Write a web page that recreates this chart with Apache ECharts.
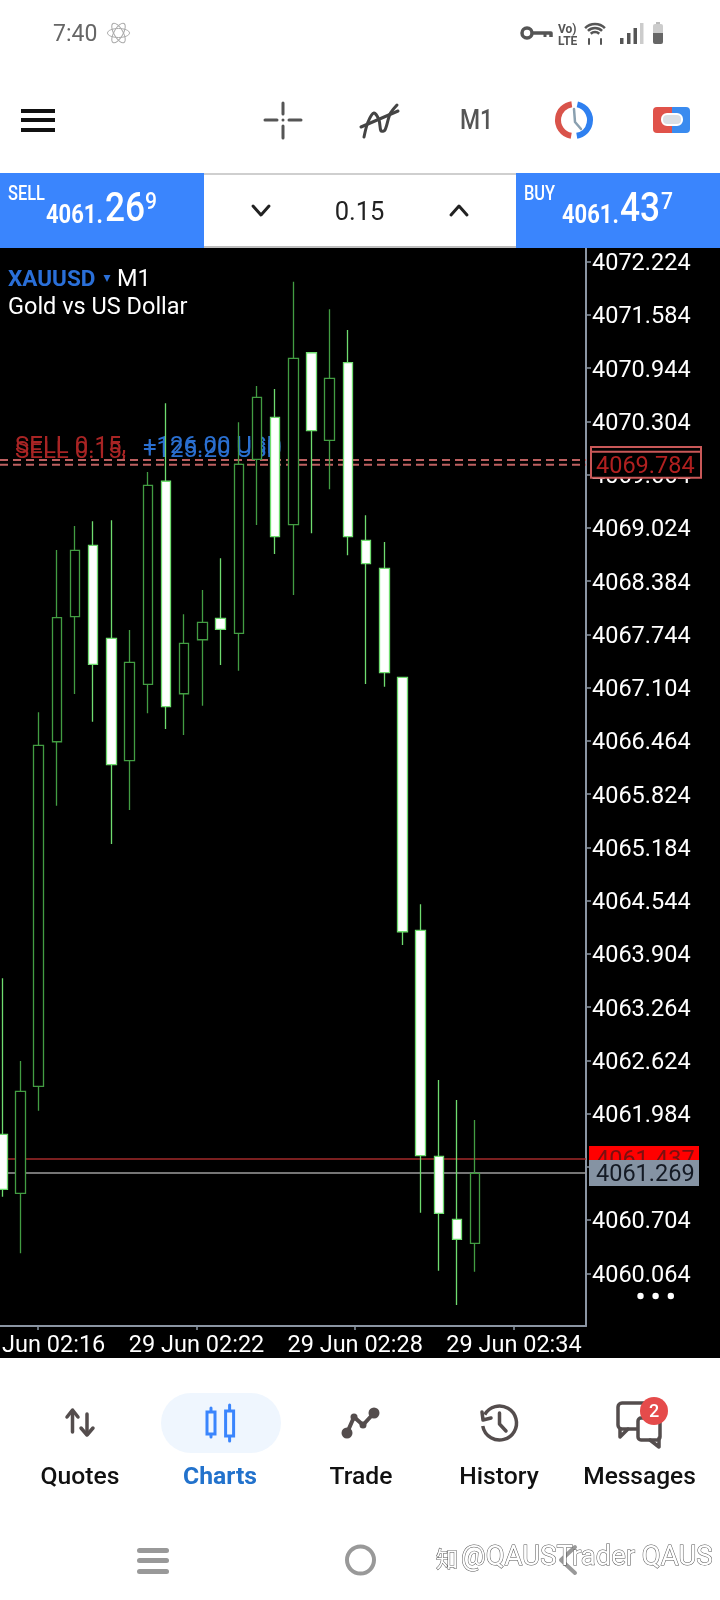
<!DOCTYPE html>
<html><head><meta charset="utf-8">
<style>html,body{margin:0;padding:0;background:#fff}#c{width:720px;height:1600px}</style>
<script src="https://cdn.jsdelivr.net/npm/echarts@6/dist/echarts.min.js"></script>
</head><body><div id="c"></div>
<script>
// Candle data: slot index on the chart, then open / close / low / high
const slots  = [0,1,2,3,4,5,6,7,8,9,10,11,12,13,14,15,16,17,18,19,20,21,22,23,24,25,26];
const opens  = [4061.735,4061.026,4062.312,4066.454,4067.957,4068.815,4067.697,4066.226,4067.144,4069.585,4067.031,4067.680,4067.938,4067.757,4069.849,4070.354,4069.063,4071.130,4070.077,4071.010,4068.875,4068.539,4067.228,4064.187,4061.470,4060.713,4060.425];
const closes = [4061.074,4062.252,4066.411,4067.945,4068.755,4067.385,4066.178,4067.409,4069.536,4066.875,4067.637,4067.890,4067.805,4069.789,4070.594,4068.919,4071.063,4070.193,4070.823,4068.919,4068.594,4067.284,4064.170,4061.478,4060.785,4060.473,4061.266];
const lows   = [4060.985,4060.305,4062.019,4065.685,4067.028,4066.695,4065.225,4065.633,4066.796,4066.607,4066.535,4066.887,4067.376,4067.308,4069.059,4068.711,4068.218,4068.959,4069.488,4068.695,4067.148,4067.115,4064.010,4060.792,4060.095,4059.683,4060.083];
const highs  = [4063.610,4062.616,4066.808,4068.759,4069.047,4069.104,4069.116,4067.797,4069.696,4070.522,4067.986,4068.278,4068.659,4070.294,4070.730,4070.694,4071.984,4071.130,4071.652,4071.403,4069.176,4068.855,4067.228,4064.500,4062.388,4062.147,4061.907];
const yTickValues = [4072.224,4071.584,4070.944,4070.304,4069.664,4069.024,4068.384,4067.744,4067.104,4066.464,4065.824,4065.184,4064.544,4063.904,4063.264,4062.624,4061.984,4061.344,4060.704,4060.064];
const xTickSlots = [1.94,10.68,19.4,28.13];
const xTickLabels = ['29 Jun 02:16','29 Jun 02:22','29 Jun 02:28','29 Jun 02:34'];
const sellOrderPrices = [4069.84,4069.784];
const askPrice = 4061.437;
const bidPrice = 4061.269;
const yMin = 4059.431, yMax = 4072.389, xMin = -0.126, xMax = 32.09;

const F = 'Roboto, sans-serif';
const GRID = {l:0,t:248,w:586,h:1078};
const chart = echarts.init(document.getElementById('c'), null, {renderer:'canvas', width:720, height:1600});
const priceLine = (price,color,type,width) => ({
  type:'line', data:[[xMin,price],[xMax,price]], symbol:'none', silent:true, z:2, animation:false,
  lineStyle:{color, type, width}
});
chart.setOption({
  animation:false, backgroundColor:'#fff',
  grid:{left:GRID.l,top:GRID.t,width:GRID.w,height:GRID.h,containLabel:false,outerBoundsMode:'none',show:false},
  xAxis:{type:'value',min:xMin,max:xMax,splitLine:{show:false},
    axisLine:{show:true,onZero:false,lineStyle:{color:'#8b95a3',width:2}},
    axisTick:{show:true,length:4,lineStyle:{color:'#8b95a3',width:1.5},customValues:xTickSlots},
    axisLabel:{color:'#fff',fontFamily:F,fontSize:23.5,margin:8,hideOverlap:false,showMinLabel:true,showMaxLabel:true,customValues:xTickSlots,
      formatter:v=>xTickLabels[xTickSlots.indexOf(v)]}},
  yAxis:{type:'value',position:'right',min:yMin,max:yMax,scale:true,splitLine:{show:false},
    axisLine:{show:true,onZero:false,lineStyle:{color:'#8b95a3',width:2}},
    axisTick:{show:true,length:5,lineStyle:{color:'#8b95a3',width:1.5},customValues:yTickValues},
    axisLabel:{color:'#fff',fontFamily:F,fontSize:23.5,margin:6,verticalAlign:'top',lineHeight:5,hideOverlap:false,customValues:yTickValues,
      formatter:v=>v.toFixed(3)}},
  series:[
    priceLine(sellOrderPrices[0],'#bd6060',[8,5],2),
    priceLine(sellOrderPrices[1],'#bd6060',[8,5],2),
    priceLine(askPrice,'#a32a2a','solid',1.5),
    priceLine(bidPrice,'#9c9c9c','solid',1.5),
    {type:'candlestick',z:3,barWidth:10,animation:false,silent:true,
     data:slots.map((s,i)=>[s,opens[i],closes[i],lows[i],highs[i]]),
     itemStyle:{color:'#000',color0:'#fff',borderColor:'#429c42',borderColor0:'#6fdc6f',borderWidth:1.3}}
  ]
});

// ---- page furniture ----
const R=(x,y,w,h,fill,o={})=>({type:'rect',silent:true,z:o.z??5,shape:{x,y,width:w,height:h,r:o.r||0},style:{fill,stroke:o.stroke,lineWidth:o.lw}});
const T=(text,x,y,size,fill,o={})=>({type:'text',silent:true,z:o.z??6,x,y:y+2.5,scaleX:o.sx||1,style:{text,fill,font:(o.w||'400')+' '+size+'px '+(o.f||F),
  align:o.a||'left',verticalAlign:'middle',textAlign:o.a||'left',textVerticalAlign:'middle',stroke:o.stroke,lineWidth:o.lw,opacity:o.op}});
const L=(pts,stroke,lw,o={})=>({type:'polyline',silent:true,z:o.z??5,shape:{points:pts,smooth:o.smooth||0},style:{fill:'none',stroke,lineWidth:lw,lineCap:o.cap||'round',lineJoin:'round'}});
const C=(cx,cy,r,fill,o={})=>({type:'circle',silent:true,z:o.z??5,shape:{cx,cy,r},style:{fill,stroke:o.stroke,lineWidth:o.lw}});
const A=(cx,cy,r,s,e,stroke,lw,o={})=>({type:'arc',silent:true,z:o.z??5,shape:{cx,cy,r,startAngle:s,endAngle:e,clockwise:true},style:{fill:'none',stroke,lineWidth:lw,lineCap:o.cap||'butt'}});
const E=(cx,cy,rx,ry,rot,stroke)=>({type:'ellipse',silent:true,z:5,x:cx,y:cy,rotation:rot,shape:{cx:0,cy:0,rx,ry},style:{fill:'none',stroke,lineWidth:1}});
const deg=d=>d*Math.PI/180;
const BLUE='#3a85fd', ICON='#544d4d';

const y=p=>chart.convertToPixel({yAxisIndex:0},p);
const els=[
  R(0,248,720,1110,'#000',{z:-10}),
  // status bar
  T('7:40',53,33,23,'#666'),
  E(118.5,33,11,4.5,deg(60),'#aaa'),E(118.5,33,11,4.5,deg(-60),'#aaa'),E(118.5,33,11,4.5,0,'#aaa'),
  C(527,33,5,'none',{stroke:'#555',lw:3.5}),L([[532,33],[551,33],[551,37]],'#555',3.5,{cap:'butt'}),L([[545,33],[545,37]],'#555',3,{cap:'butt'}),
  T('Vo)',558,27,12,'#555',{w:'700'}),T('LTE',558,39,12,'#555',{w:'700'}),
  A(595,38,6,deg(225),deg(315),'#555',2.5),A(595,38,10,deg(225),deg(315),'#555',2.5),A(595,38,14,deg(225),deg(315),'#555',2.5),
  L([[589,39],[589,44]],'#555',2),L([[601,39],[601,44]],'#555',2),
  R(620,38,3.5,6,'#555'),R(627,33,3.5,11,'#555'),R(633.5,28,3.5,16,'#555'),R(640,23,3.5,21,'#ccc'),
  R(656,22,4,3,'#bbb'),R(653,24,10,10,'#ccc',{r:[2,2,0,0]}),R(653,33,10,11,'#666',{r:[0,0,2,2]}),
  // toolbar
  R(21,109,34,4,'#111'),R(21,118,34,4,'#111'),R(21,128,34,4,'#111'),
  L([[265,120],[277,120]],'#555',3),L([[289,120],[301,120]],'#555',3),L([[283,103],[283,114]],'#555',3),L([[283,126],[283,138]],'#555',3),C(283,120,1.5,'#555'),
  L([[364,137],[368,122],[374,113],[379,120],[381,131],[385,130],[390,114],[397,105]],'#444',3,{smooth:0.3}),L([[361,127],[398,111]],'#444',3),
  T('M1',476.5,120,27,'#555',{a:'center',w:'500',sx:0.85}),
  A(574,120,16,deg(100),deg(262),'#d9534a',6),A(574,120,16,deg(-78),deg(80),'#2f80f0',6),
  L([[574,109],[575,122],[581,129]],'#8aa0b0',2.5),
  R(653,107,19,26,'#e0524a',{r:[4,0,0,4]}),R(672,107,18,26,'#3a8bef',{r:[0,4,4,0]}),R(662,114,20,11,'#dbdfe4',{r:5,stroke:'#fff',lw:2}),
  // quote bar
  R(0,173,204,75,BLUE),R(516,173,204,75,BLUE),R(204,173,312,2,'#cfcfcf'),R(204,246,312,2,'#bdbdbd'),
  T('SELL',8,192,20,'#fff',{w:'500',sx:0.82}),T('4061.',46,214,25,'#fff',{w:'700',sx:0.88}),T('26',105,208,41,'#fff',{w:'500',sx:0.86}),T('9',145,200,24,'#fff',{w:'500',sx:0.88}),
  T('BUY',524,192,20,'#fff',{w:'500',sx:0.82}),T('4061.',562,214,25,'#fff',{w:'700',sx:0.88}),T('43',620,208,41,'#fff',{w:'500',sx:0.86}),T('7',661,200,24,'#fff',{w:'500',sx:0.88}),
  L([[253,206],[261,215],[269,206]],'#222',3),L([[451,215],[459,206],[467,215]],'#222',3),
  T('0.15',359.5,211,25.5,'#222',{a:'center'}),
  // chart header
  T('XAUUSD',8,278,22.5,'#2a6fd8',{w:'700',z:1}),
  {type:'polygon',silent:true,z:1,shape:{points:[[103.5,275],[110.5,275],[107,282]]},style:{fill:'#2a6fd8'}},
  T('M1',117,278,23.5,'#fff',{z:1}),
  T('Gold vs US Dollar',8,306,23.5,'#fff',{z:1}),
  // trade order text, under the candles
  T('SELL 0.15,',15,444.5,24,'#a82424',{z:1}),T('SELL 0.15,',15,449,24,'#a82424',{z:1}),
  T('+126.00 USD',143,444.5,24,'#2a6fd0',{z:1}),T('+125.20 USD',143,448.5,24,'#2a6fd0',{z:1}),
  // three dots
  C(640.5,1296,3.2,'#fff'),C(655.6,1296,3.2,'#fff'),C(670.8,1296,3.2,'#fff'),
  // price tags
  ...sellOrderPrices.map(p=>R(591,y(p)-13,110,26,'#000',{z:10,stroke:'#c95858',lw:2})),
  ...sellOrderPrices.slice(1).map(p=>T(p.toFixed(3),596,y(p),23.5,'#b02020',{z:11})),
  R(589,y(askPrice)-13,110,26,'#ff0000',{z:10}),T(askPrice.toFixed(3),596,y(askPrice),23.5,'#7a1010',{z:11}),
  R(589,y(bidPrice)-13,110,26,'#8593a3',{z:12}),T(bidPrice.toFixed(3),596,y(bidPrice),23.5,'#141a24',{z:13}),
  // bottom nav
  R(161,1393,120,60,'#eff6fe',{r:30}),
  L([[72.5,1432],[72.5,1411]],ICON,3.5),L([[67,1417],[72.5,1410],[78,1417]],ICON,3.5),
  L([[87,1414],[87,1434]],ICON,3.5),L([[81,1428],[87,1435],[93,1428]],ICON,3.5),
  L([[211,1408],[211,1437]],BLUE,3),R(207,1412,8,22,'#eff6fe',{stroke:BLUE,lw:3}),
  L([[229.6,1405],[229.6,1441]],BLUE,3),R(225.6,1411,8,25,'#eff6fe',{stroke:BLUE,lw:3}),
  L([[347,1433],[354,1417],[363,1425],[374,1413]],ICON,4),C(347,1433,5.5,ICON),C(354,1417,3.5,ICON),C(363,1425,3.5,ICON),C(374,1413,5.5,ICON),
  A(499.5,1423,17,deg(-150),deg(170),ICON,3.5),L([[482,1412],[483,1420],[491,1418]],ICON,3.5),L([[499.5,1413],[499.5,1424],[506,1431]],ICON,3.5),
  R(618,1403,30,26,'#fff',{r:4,stroke:ICON,lw:3.5}),L([[620,1429],[620,1437],[628,1429]],ICON,3.5),
  R(638,1418,22,22,'#fff',{r:3,stroke:ICON,lw:3.5}),L([[650,1440],[659,1447],[659,1438]],ICON,3.5),
  C(654,1411,14,'#e54b4b'),T('2',654,1410,18,'#fff',{a:'center',w:'500'}),
  T('Quotes',80,1475,24.7,'#111',{a:'center',w:'500'}),
  T('Charts',220,1475,24.7,'#2272cc',{a:'center',w:'700'}),
  T('Trade',361,1475,24.7,'#111',{a:'center',w:'500'}),
  T('History',499,1475,24.7,'#111',{a:'center',w:'500'}),
  T('Messages',639.5,1475,24.5,'#111',{a:'center',w:'500'}),
  // system nav
  R(137,1548,32,5,'#999',{r:2.5}),R(137,1558,32,5,'#999',{r:2.5}),R(137,1569,32,5,'#999',{r:2.5}),
  C(360.5,1560,13.5,'none',{stroke:'#999',lw:4}),
  L([[575,1547],[561,1560],[575,1573]],'#999',4),
  // watermark
  T('知',436,1556,22,'#fff',{f:'"Noto Sans CJK SC"',stroke:'#555',lw:1,z:8}),
  T('@QAUSTrader QAUS',461,1556,27.5,'#fff',{stroke:'#555',lw:1,z:8})
];
chart.setOption({graphic:{elements:els}});
</script></body></html>
